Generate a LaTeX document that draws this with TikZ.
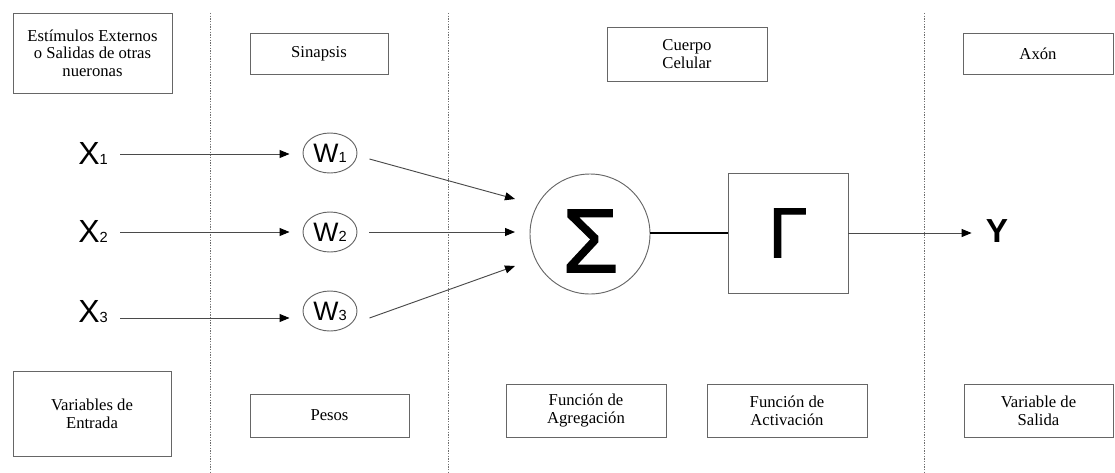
\documentclass[tikz,border=0pt]{standalone}
\usepackage{fontspec}
\setmainfont{Liberation Serif}
\setsansfont{Liberation Sans}
\newfontface\heavysans[FakeBold=1.4]{Liberation Sans}
\usetikzlibrary{arrows.meta,shapes.geometric,calc}
\definecolor{edge}{HTML}{666666}
\definecolor{wire}{HTML}{4A4A4A}
\definecolor{sep}{HTML}{707070}
\begin{document}
\begin{tikzpicture}[x=0.75pt,y=-0.75pt,
  box/.style={draw=edge, line width=0.7pt, align=center, inner sep=0pt,
    font=\fontsize{12.5}{13.2}\selectfont},
  weight/.style={ellipse, draw=edge, line width=0.7pt, inner sep=0pt,
    minimum width=40.5pt, minimum height=30pt},
  xvar/.style={anchor=base west, inner sep=0pt},
  arr/.style={draw=wire, line width=0.7pt,
    -{Triangle[length=7.5pt,width=6pt,color=black,fill=black]}},
  sepline/.style={draw=sep, line width=0.6pt, dash pattern=on 1pt off 1pt}
]
\useasboundingbox (0,0) rectangle (1115,472);

% column separators
\draw[sepline] (210,13) -- (210,472);
\draw[sepline] (448,13) -- (448,472);
\draw[sepline] (924,13) -- (924,472);

% top labels
\node[box, minimum width=119.25pt, minimum height=60pt] (est) at (92.5,53)
  {Estímulos Externos\\o Salidas de otras\\nueronas};
\node[box, minimum width=103.5pt, minimum height=30.75pt] (sin) at (319,53.5) {Sinapsis};
\node[box, minimum width=120pt, minimum height=40.5pt] (cue) at (687,54) {Cuerpo\\Celular};
\node[box, minimum width=112.5pt, minimum height=30.75pt] (axo) at (1038,53.5) {Axón};

% bottom labels
\node[box, minimum width=118.5pt, minimum height=63.75pt] (ent) at (92,413.5) {Variables de\\Entrada};
\node[box, minimum width=119.25pt, minimum height=32.25pt] (pes) at (329.5,415.5) {Pesos};
\node[box, minimum width=120pt, minimum height=39.75pt] (agr) at (586,410.5) {Función de\\Agregación};
\node[box, minimum width=120pt, minimum height=39.75pt] (act) at (787,410.5) {Función de\\Activación};
\node[box, minimum width=111.75pt, minimum height=39.75pt] (sal) at (1038.5,410.5) {Variable de\\Salida};

% inputs
\node[xvar] (X1) at (78,164) {\sffamily\fontsize{24}{24}\selectfont X\fontsize{11}{11}\selectfont 1};
\node[xvar] (X2) at (78,242) {\sffamily\fontsize{24}{24}\selectfont X\fontsize{11}{11}\selectfont 2};
\node[xvar] (X3) at (78,322) {\sffamily\fontsize{24}{24}\selectfont X\fontsize{11}{11}\selectfont 3};

% weights
\node[weight] (W1) at (330,153) {\sffamily\fontsize{20}{20}\selectfont W\fontsize{11}{11}\selectfont 1};
\node[weight] (W2) at (330,232) {\sffamily\fontsize{20}{20}\selectfont W\fontsize{11}{11}\selectfont 2};
\node[weight] (W3) at (330,311) {\sffamily\fontsize{20}{20}\selectfont W\fontsize{11}{11}\selectfont 3};

% aggregation and activation
\node[circle, draw=edge, line width=0.7pt, minimum size=90pt, inner sep=0pt] (S) at (590,234) {};
\node[inner sep=0pt, font=\heavysans\fontsize{68}{68}\selectfont] (sig) at (590.5,241) {Σ};
\node[draw=edge, line width=0.7pt, minimum size=90pt, inner sep=0pt,
  font=\heavysans\fontsize{53}{53}\selectfont] (G) at (788,233) {Γ};
\node[inner sep=0pt, font=\sffamily\bfseries\fontsize{25}{25}\selectfont] (Y) at (997,231) {Y};

% connectors
\draw[arr] ($(X1.base east)+(12,-10)$) -- ($(W1.west)+(-13,1)$);
\draw[arr] ($(X2.base east)+(12,-10)$) -- ($(W2.west)+(-13,0)$);
\draw[arr] ($(X3.base east)+(12,-4)$) -- ($(W3.west)+(-13,7)$);

\draw[arr] ($(W1.east)+(12,6)$) -- ($(S.center)+(-75,-35)$);
\draw[arr] ($(W2.east)+(12,0)$) -- ($(S.center)+(-75,-2)$);
\draw[arr] ($(W3.east)+(12,7)$) -- ($(S.center)+(-75,32)$);

\draw[line width=2.2pt] (G.west -| S.east) -- (G.west);
\draw[arr, shorten >=10.5pt] (G.east) -- (G.east -| Y.west);
\end{tikzpicture}
\end{document}
